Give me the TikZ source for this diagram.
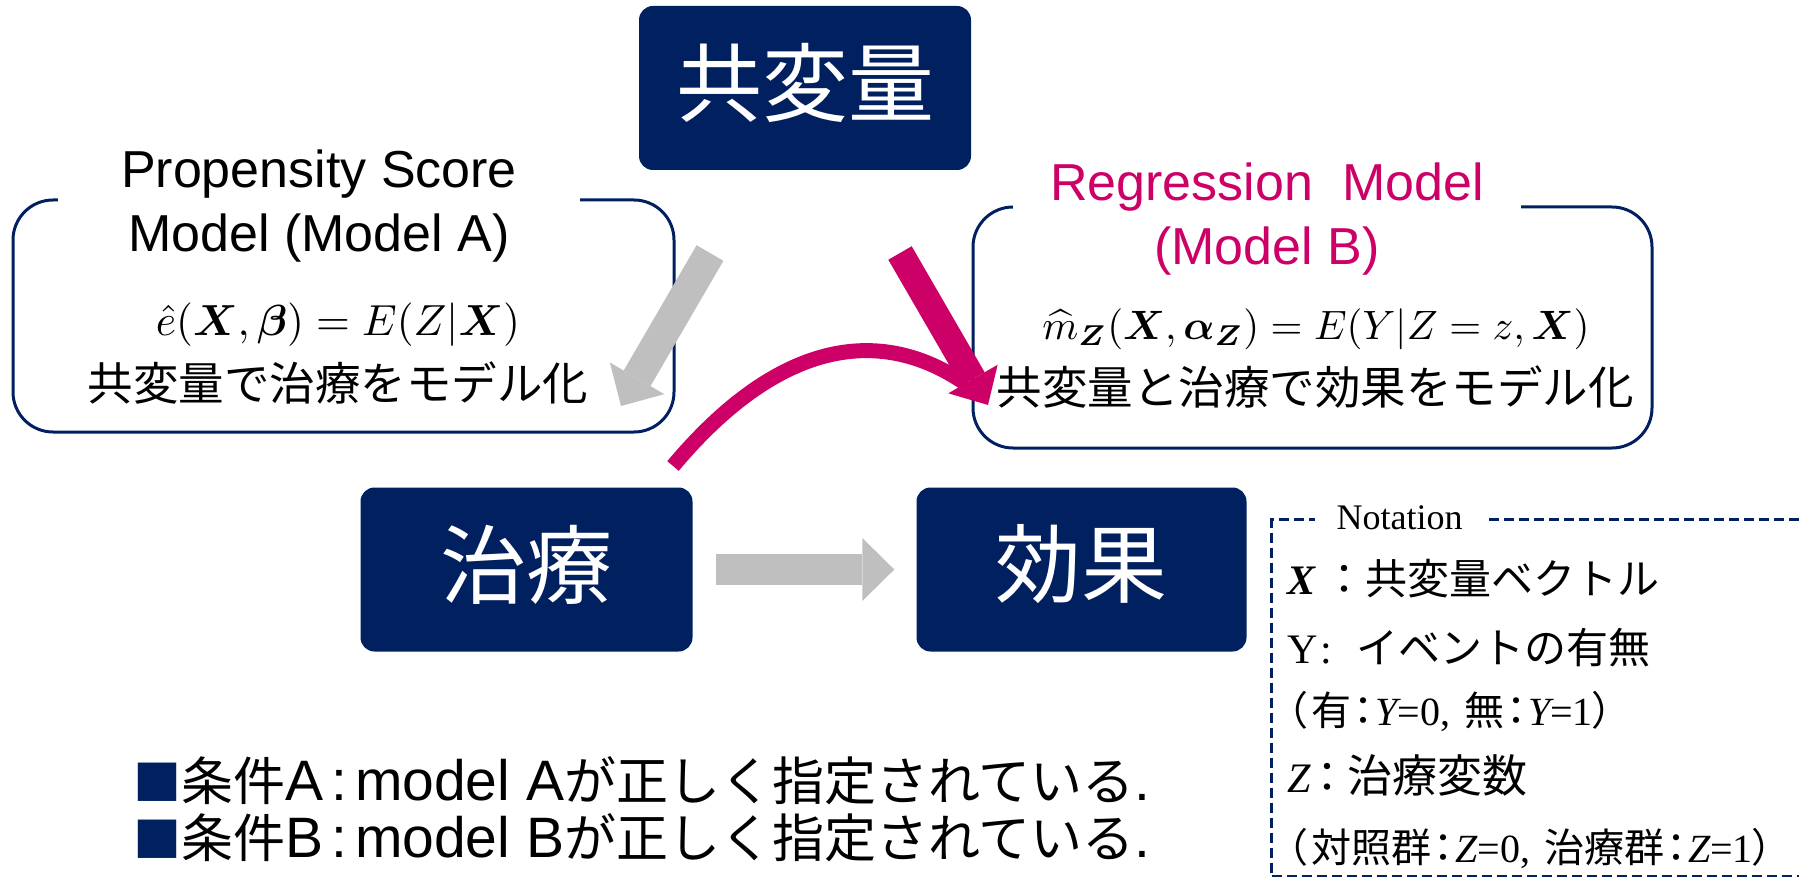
\documentclass[tikz,border=0pt]{standalone}
\usepackage{amsmath,bm}
\usepackage{graphicx}
\usepackage[no-math]{fontspec}
\setmainfont{Liberation Sans}
\newfontfamily\cjk{Noto Sans CJK JP}
\newfontfamily\cjkp[RawFeature=+palt]{Noto Sans CJK JP}
\newfontfamily\tnr{Liberation Serif}
\newcommand{\bigjp}[1]{{\cjk\fontsize{52}{56}\selectfont #1}}
\usetikzlibrary{arrows.meta}
\definecolor{navy}{HTML}{002060}
\definecolor{mag}{HTML}{CC0066}
\definecolor{arrgray}{HTML}{BFBFBF}
\tikzset{
  navybox/.style={fill=navy, rounded corners=14pt, minimum width=332pt, minimum height=164pt, inner sep=0pt},
  bigtext/.style={text=white, font=\cjk\fontsize{86}{90}\selectfont, inner sep=0pt},
  modelbox/.style={draw=navy, line width=3pt, rounded corners=40pt, fill=white, inner sep=0pt},
  titlebox/.style={fill=white, align=center, inner ysep=2pt, font=\fontsize{52}{64}\selectfont},
  jtext/.style={font=\cjk\fontsize{45.5}{50}\selectfont, inner sep=0pt},
  mtext/.style={inner sep=0pt},
  grayarrow/.style={draw=arrgray, line width=31pt, -{Triangle[width=63pt,length=32pt,line width=0pt]}},
  magarrow/.style={draw=mag, line width=27pt, -{Triangle[width=57pt,length=30pt,line width=0pt]}},
  magcurve/.style={draw=mag, line width=15pt},
  notebox/.style={draw=navy, line width=3pt, dash pattern=on 10pt off 5pt, inner sep=0pt},
  notetitle/.style={fill=white, inner xsep=22pt, inner ysep=0pt, font=\tnr\fontsize{36}{40}\selectfont},
  noteline/.style={anchor=base west, inner sep=0pt},
  bigline/.style={anchor=base west, inner sep=0pt, font=\fontsize{57}{60}\selectfont},
}
\begin{document}
\begin{tikzpicture}[x=1pt,y=-1pt]
\useasboundingbox (0,0) rectangle (1799,877);
\clip (0,0) rectangle (1799,877);

% model boxes
\node[modelbox, minimum width=661pt, minimum height=232pt] (boxA) at (343.5,316) {};
\node[modelbox, minimum width=679pt, minimum height=241pt] (boxB) at (1312.5,327.5) {};
\node[titlebox, inner xsep=63.5pt] (titleA) at (319,206.5) {Propensity Score\\Model (Model A)};
\node[titlebox, inner xsep=37pt, text=mag] (titleB) at (1267,219.5) {Regression\ \ Model\\(Model B)};
\node[mtext] (fA) at (338,325) {\scalebox{4.35}{$\hat{e}(\boldsymbol{X},\boldsymbol{\beta}) = E(Z|\boldsymbol{X})$}};
\node[mtext] (fB) at (1316,329) {\scalebox{4.1}{$\widehat{m}_{\boldsymbol{Z}}(\boldsymbol{X},\boldsymbol{\alpha}_{\boldsymbol{Z}}) = E(Y|Z = z,\boldsymbol{X})$}};
\node[jtext] (jA) at (338,383) {共変量で治療をモデル化};
\node[jtext] (jB) at (1315,387) {共変量と治療で効果をモデル化};

% navy boxes
\node[navybox] (cov) at (805,88) {};
\node[bigtext] (covt) at ([yshift=5pt]cov.center) {共変量};
\node[navybox] (treat) at (526.5,569.5) {};
\node[bigtext] (treatt) at ([yshift=5pt]treat.center) {治療};
\node[navybox, minimum width=330pt] (effect) at (1081.5,569.5) {};
\node[bigtext] (effectt) at ([yshift=5pt]effect.center) {効果};

% arrows
\coordinate (ga) at (710,253);
\coordinate (gb) at (621,406);
\coordinate (ma) at (900,253);
\coordinate (mb) at (988,405);
\coordinate (mc) at (673,466);
\coordinate (md) at (966,384);
\draw[grayarrow] (ga) -- (gb);
\draw[magcurve] (mc) .. controls (782,336) and (884,327) .. (md);
\draw[magarrow] (ma) -- (mb);
\draw[grayarrow] ([xshift=23pt]treat.east) -- ([xshift=-22pt]effect.west);

% notation
\node[notebox, anchor=north west, minimum width=700pt, minimum height=357pt] (notation) at (1270,518) {};
\node[notetitle] (ntitle) at (1399.5,518) {Notation};
\node[noteline, font=\fontsize{42}{46}\selectfont] (n1) at (1287,594) {{\tnr\bfseries\itshape X}\hspace{8pt}{\cjk ：}{\cjk 共変量ベクトル}};
\node[noteline, font=\fontsize{42}{46}\selectfont] (n2) at (1287,663) {{\tnr Y\hspace{3pt}:}\hspace{24pt}{\cjk イベントの有無}};
\node[noteline, font=\fontsize{40}{44}\selectfont] (n3) at (1287,725) {{\cjkp （}\hspace{4pt}{\cjk 有}\hspace{2pt}{\cjkp ：}\hspace{2pt}{\tnr\itshape Y}{\tnr =0, }\hspace{4pt}{\cjk 無}\hspace{2pt}{\cjkp ：}\hspace{2pt}{\tnr\itshape Y}{\tnr =1}{\cjkp ）}};
\node[noteline, font=\fontsize{42}{46}\selectfont] (n4) at (1287,792) {{\tnr\itshape Z}\hspace{6pt}{\cjkp ：}\hspace{10pt}{\cjk\fontsize{45}{48}\selectfont 治療変数}};
\node[noteline, font=\fontsize{40}{44}\selectfont] (n5) at (1287,862) {{\cjkp （}\hspace{4pt}{\cjk 対照群}\hspace{2pt}{\cjkp ：}\hspace{2pt}{\tnr\itshape Z}{\tnr =0, }\hspace{4pt}{\cjk 治療群}\hspace{2pt}{\cjkp ：}\hspace{2pt}{\tnr\itshape Z}{\tnr =1}{\cjkp ）}};

% bottom conditions
\node[bigline] (cA) at (133,800) {{\cjk\fontsize{48}{56}\selectfont\color{navy}■}\bigjp{条件}A\hspace{8pt}:\hspace{8pt}model A\bigjp{が正しく指定されている}.};
\node[bigline] (cB) at (133,857) {{\cjk\fontsize{48}{56}\selectfont\color{navy}■}\bigjp{条件}B\hspace{8pt}:\hspace{8pt}model B\bigjp{が正しく指定されている}.};
\end{tikzpicture}
\end{document}
